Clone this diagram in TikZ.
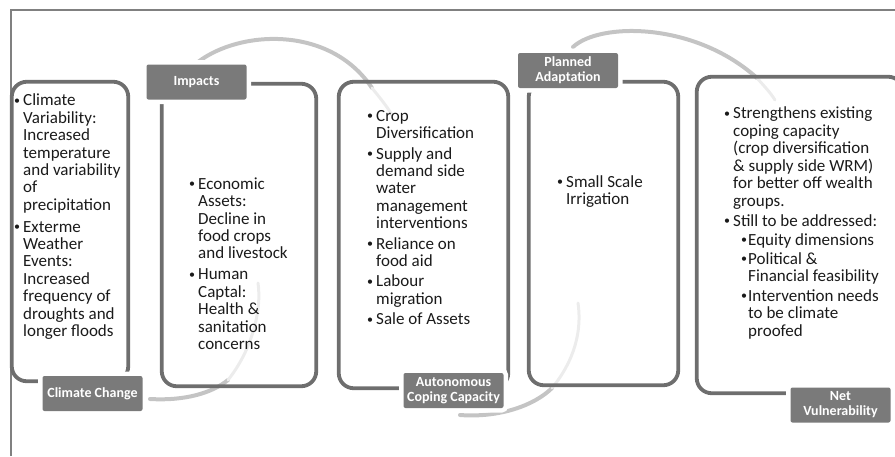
\documentclass[tikz,border=0pt]{standalone}
\usepackage{fontspec}
\setmainfont{Carlito}
\usepackage{xcolor}
\usepackage{tikz}
\usetikzlibrary{calc}
\usetikzlibrary{positioning}
\tikzset{>=latex}
\definecolor{boxgray}{HTML}{6E6E6E}
\definecolor{tabgray}{HTML}{7A7A7A}
\definecolor{swgray}{HTML}{C4C4C4}
\definecolor{swfaint}{HTML}{ECECEC}
\definecolor{framegray}{HTML}{808080}
\definecolor{txtgray}{HTML}{1A1A1A}
\newcommand{\bul}{\raisebox{1.5pt}{\fontsize{12}{12}\selectfont\textbullet}}
\newcommand{\bitem}[1]{\makebox[9pt][l]{\bul}\begin{tabular}[t]{@{}l@{}}#1\end{tabular}}
\newcommand{\sitem}[1]{\hspace*{17pt}\makebox[7pt][l]{\bul}\begin{tabular}[t]{@{}l@{}}#1\end{tabular}}
\tikzstyle{boxframe} = [draw=boxgray, line width=3.8pt, rounded corners=15pt]
\tikzstyle{tablabel} = [fill=tabgray, text=white, font=\fontsize{14}{15}\selectfont\bfseries, minimum width=100pt, minimum height=35pt, inner sep=2pt, rounded corners=2pt, align=center, preaction={draw=white, line width=9pt}]
\tikzstyle{bullets} = [anchor=north west, inner sep=0pt, align=left, text=txtgray, font=\fontsize{17}{17.4}\selectfont]
\tikzstyle{swoosh} = [draw=swgray, line width=4pt, line cap=round]
\tikzstyle{swooshfade} = [draw=swfaint, line width=3pt, line cap=round]

\begin{document}
\begin{tikzpicture}[x=1pt, y=-1pt]
\useasboundingbox (0,0) rectangle (895,456);
\clip (0,0) rectangle (895,456);

% outer frame
\coordinate (f0) at (11,456);
\coordinate (f1) at (895,10);
\draw [framegray, line width=2.5pt] (f0) |- (f1);

% swooshes behind the boxes
\coordinate (u1a) at (198,62);
\coordinate (u1b) at (372,88);
\coordinate (u1c) at (392,115);
\coordinate (u2a) at (573,47);
\coordinate (u2b) at (757,78);
\coordinate (u2c) at (775,100);
\coordinate (d1a) at (150,399);
\coordinate (d1b) at (228,380);
\coordinate (d1c) at (258,283);
\coordinate (d2a) at (460,415);
\coordinate (d2b) at (552,388);
\coordinate (d2c) at (578,303);
\draw [swoosh] (d1a) .. controls (185,401) and (212,393) .. (d1b);
\draw [swooshfade] (d1b) .. controls (252,350) and (262,310) .. (d1c);
\draw [swoosh] (u1a) .. controls (240,30) and (330,25) .. (u1b);
\draw [swooshfade] (u1b) .. controls (380,98) and (386,105) .. (u1c);
\draw [swoosh] (u2a) .. controls (600,22) and (695,22) .. (u2b);
\draw [swooshfade] (u2b) .. controls (764,86) and (770,92) .. (u2c);
\draw [swoosh] (d2a) .. controls (500,418) and (535,405) .. (d2b);
\draw [swooshfade] (d2b) .. controls (575,360) and (582,330) .. (d2c);

\node [boxframe, minimum width=116.5pt, minimum height=299.5pt] (b1) at (70,231.5) {};
\node [boxframe, minimum width=154.5pt, minimum height=302.5pt] (b2) at (239,235) {};
\node [boxframe, minimum width=169.5pt, minimum height=306.5pt] (b3) at (423.5,235) {};
\node [boxframe, minimum width=149.5pt, minimum height=303.5pt] (b4) at (603.5,233.5) {};
\node [boxframe, minimum width=206.5pt, minimum height=316.5pt] (b5) at (800,235) {};

\node [bullets] (t1) at (14,93.5) {%
\bitem{Climate\\Variability:\\Increased\\temperature\\and variability\\of\\precipitation}\\[3.5pt]
\bitem{Exterme\\Weather\\Events:\\Increased\\frequency of\\droughts and\\longer floods}};
\node [bullets] (t2) at (189,177) {%
\bitem{Economic\\Assets:\\Decline in\\food crops\\and livestock}\\[2.5pt]
\bitem{Human\\Captal:\\Health \&\\sanitation\\concerns}};
\node [bullets] (t3) at (367,109) {%
\bitem{Crop\\Diversification}\\[2pt]
\bitem{Supply and\\demand side\\water\\management\\interventions}\\[2pt]
\bitem{Reliance on\\food aid}\\[2pt]
\bitem{Labour\\migration}\\[2pt]
\bitem{Sale of Assets}};
\node [bullets] (t4) at (557,175) {%
\bitem{Small Scale\\Irrigation}};
\node [bullets] (t5) at (724,106.5) {%
\bitem{Strengthens existing\\coping capacity\\(crop diversification\\\& supply side WRM)\\for better off wealth\\groups.}\\[1.5pt]
\bitem{Still to be addressed:}\\[1.5pt]
\sitem{Equity dimensions}\\[1.5pt]
\sitem{Political \&\\Financial feasibility}\\[1.5pt]
\sitem{Intervention needs\\to be climate\\proofed}};

\node [tablabel] (l1) at (92.5,393.5) {Climate Change};
\node [tablabel] (l2) at (196.5,82) {Impacts};
\node [tablabel] (l3) at (453.5,390.5) {Autonomous\\Coping Capacity};
\node [tablabel] (l4) at (568,70.5) {Planned\\Adaptation};
\node [tablabel] (l5) at (840.5,405) {Net\\Vulnerability};
\end{tikzpicture}
\end{document}
